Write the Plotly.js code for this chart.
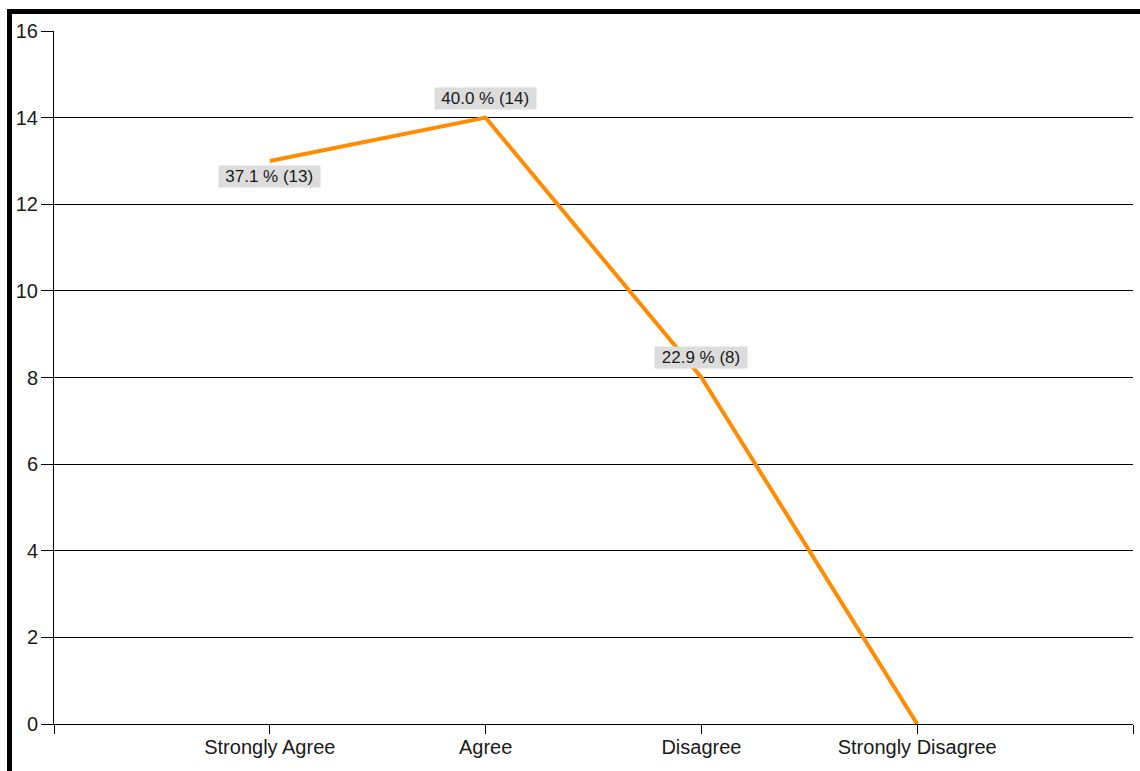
<!DOCTYPE html>
<html>
<head>
<meta charset="utf-8">
<script src="https://cdn.plot.ly/plotly-3.0.1.min.js"></script>
<style>
  html, body { margin: 0; padding: 0; background: #fff; }
  #wrap { position: relative; width: 1140px; height: 771px; overflow: hidden; }
  #frame {
    position: absolute; left: 7px; top: 9px; right: 0; bottom: 0;
    border-left: 5px solid #000; border-top: 5px solid #000;
    pointer-events: none;
  }
  #chart { position: absolute; left: 0; top: 0; width: 1140px; height: 771px; }
</style>
</head>
<body>
<div id="wrap">
  <div id="frame"></div>
  <div id="chart"></div>
</div>
<script>
// Survey responses per answer
const categories = ['Strongly Agree', 'Agree', 'Disagree', 'Strongly Disagree'];
const counts = [13, 14, 8, 0];
const percents = [37.1, 40.0, 22.9, 0.0];
const yTicks = [0, 2, 4, 6, 8, 10, 12, 14, 16];

// label offsets (px) above/below each point
const labelShift = [-16, 19, 20, null];

const xIdx = categories.map((c, i) => i);

const font = { family: '"Liberation Sans", Arial, sans-serif', color: '#1a1a1a' };

const trace = {
  x: xIdx,
  y: counts,
  type: 'scatter',
  mode: 'lines',
  line: { color: '#ff8c00', width: 4 },
  hoverinfo: 'skip'
};

const annotations = [];
counts.forEach((v, i) => {
  if (labelShift[i] === null) return;
  const txt = percents[i].toFixed(1) + ' % (' + v + ')';
  annotations.push({
    x: xIdx[i], y: v, xref: 'x', yref: 'y',
    text: txt,
    showarrow: false,
    yshift: labelShift[i],
    bgcolor: '#dcdcdc',
    borderpad: 1,
    width: txt.length * 8.5 + 5,
    font: Object.assign({ size: 17 }, font)
  });
});

const axisFont = Object.assign({ size: 20 }, font);

const layout = {
  width: 1140,
  height: 771,
  margin: { l: 54, r: 7, t: 31, b: 47, pad: 0 },
  paper_bgcolor: 'rgba(0,0,0,0)',
  plot_bgcolor: 'rgba(0,0,0,0)',
  showlegend: false,
  font: axisFont,
  xaxis: {
    range: [-1, categories.length],
    tickmode: 'array',
    tickvals: [-1].concat(xIdx, [categories.length]),
    ticktext: [''].concat(categories, ['']),
    ticks: 'outside',
    ticklen: 9,
    tickwidth: 1,
    tickcolor: '#000',
    ticklabelstandoff: -4,
    tickfont: axisFont,
    showgrid: false,
    zeroline: false,
    showline: true,
    linecolor: '#000',
    linewidth: 1,
    fixedrange: true
  },
  yaxis: {
    range: [0, 16],
    tickmode: 'array',
    tickvals: yTicks,
    ticktext: yTicks.map(String),
    ticks: 'outside',
    ticklen: 12,
    tickwidth: 1,
    tickcolor: '#000',
    ticklabelstandoff: -1,
    tickfont: axisFont,
    showgrid: true,
    gridcolor: '#000',
    gridwidth: 1,
    zeroline: false,
    showline: true,
    linecolor: '#000',
    linewidth: 1,
    fixedrange: true
  },
  annotations: annotations
};

Plotly.newPlot('chart', [trace], layout, { displayModeBar: false, staticPlot: true });
</script>
</body>
</html>
